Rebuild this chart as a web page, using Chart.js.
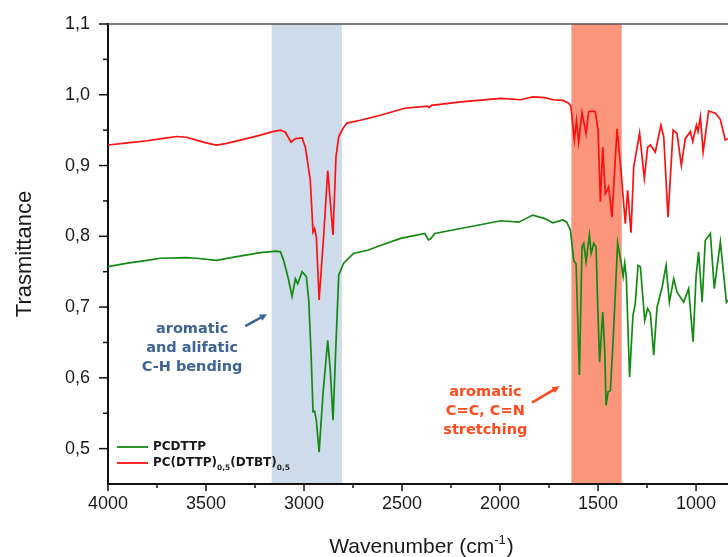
<!DOCTYPE html>
<html>
<head>
<meta charset="utf-8">
<script src="https://cdn.jsdelivr.net/npm/chart.js@4.4.1/dist/chart.umd.min.js"></script>
<style>
  html, body { margin: 0; padding: 0; background: #fff; overflow: hidden; }
  canvas { display: block; }
</style>
</head>
<body>
<canvas id="ftir" width="728" height="557"></canvas>
<script>
// spectra (wavenumber cm-1 / transmittance)
var greenWn = [4000, 3900, 3800, 3733, 3600, 3549, 3447, 3350, 3223, 3141, 3120, 3104, 3080, 3061, 3044, 3032, 3010, 2988, 2976, 2964, 2954, 2946, 2937, 2923, 2903, 2879, 2866, 2852, 2839, 2823, 2798, 2747, 2679, 2611, 2507, 2384, 2365, 2355, 2333, 2200, 1996, 1904, 1833, 1771, 1731, 1679, 1660, 1641, 1624, 1612, 1595, 1582, 1573, 1561, 1544, 1535, 1522, 1510, 1502, 1492, 1476, 1466, 1459, 1449, 1437, 1423, 1400, 1381, 1372, 1364, 1356, 1339, 1322, 1310, 1296, 1284, 1262, 1247, 1233, 1216, 1199, 1173, 1153, 1136, 1114, 1097, 1063, 1038, 1015, 1000, 987, 969, 953, 927, 907, 876, 845, 837];
var greenT = [0.757, 0.762, 0.766, 0.769, 0.770, 0.769, 0.766, 0.771, 0.777, 0.779, 0.778, 0.766, 0.740, 0.715, 0.740, 0.733, 0.750, 0.743, 0.710, 0.634, 0.552, 0.553, 0.540, 0.495, 0.578, 0.653, 0.611, 0.540, 0.634, 0.745, 0.762, 0.776, 0.780, 0.787, 0.797, 0.804, 0.795, 0.796, 0.804, 0.811, 0.822, 0.820, 0.830, 0.825, 0.819, 0.823, 0.820, 0.809, 0.766, 0.761, 0.604, 0.785, 0.790, 0.764, 0.802, 0.776, 0.790, 0.785, 0.705, 0.622, 0.693, 0.639, 0.561, 0.580, 0.582, 0.653, 0.791, 0.761, 0.743, 0.762, 0.743, 0.601, 0.688, 0.705, 0.759, 0.757, 0.681, 0.698, 0.691, 0.632, 0.700, 0.728, 0.759, 0.707, 0.740, 0.721, 0.707, 0.726, 0.651, 0.743, 0.778, 0.707, 0.794, 0.804, 0.726, 0.792, 0.707, 0.710];

var redWn = [4000, 3900, 3800, 3700, 3650, 3600, 3549, 3500, 3447, 3400, 3325, 3223, 3160, 3120, 3095, 3066, 3044, 3010, 2993, 2968, 2954, 2946, 2937, 2923, 2900, 2879, 2852, 2837, 2823, 2800, 2781, 2713, 2611, 2486, 2370, 2362, 2350, 2200, 1996, 1894, 1833, 1771, 1731, 1679, 1650, 1638, 1621, 1610, 1599, 1582, 1561, 1548, 1531, 1514, 1500, 1488, 1476, 1463, 1446, 1429, 1403, 1383, 1361, 1349, 1332, 1318, 1288, 1264, 1247, 1233, 1208, 1179, 1165, 1143, 1117, 1097, 1075, 1055, 1029, 1017, 998, 990, 978, 964, 936, 901, 876, 851, 837];
var redT = [0.929, 0.932, 0.935, 0.939, 0.941, 0.940, 0.936, 0.932, 0.929, 0.931, 0.936, 0.943, 0.948, 0.950, 0.947, 0.933, 0.938, 0.939, 0.926, 0.879, 0.806, 0.811, 0.799, 0.710, 0.800, 0.893, 0.802, 0.912, 0.941, 0.953, 0.960, 0.964, 0.971, 0.981, 0.984, 0.982, 0.985, 0.990, 0.995, 0.993, 0.997, 0.996, 0.993, 0.992, 0.988, 0.983, 0.936, 0.964, 0.933, 0.975, 0.945, 0.976, 0.977, 0.976, 0.950, 0.849, 0.926, 0.860, 0.870, 0.827, 0.952, 0.893, 0.818, 0.865, 0.805, 0.898, 0.946, 0.882, 0.926, 0.929, 0.919, 0.957, 0.941, 0.827, 0.950, 0.945, 0.900, 0.938, 0.948, 0.934, 0.957, 0.948, 0.969, 0.919, 0.977, 0.974, 0.965, 0.936, 0.938];

// axis ticks
var xMajor = [4000, 3500, 3000, 2500, 2000, 1500, 1000];
var xMinor = [3750, 3250, 2750, 2250, 1750, 1250];
var yMajor = [0.5, 0.6, 0.7, 0.8, 0.9, 1.0, 1.1];
var yMinor = [0.55, 0.65, 0.75, 0.85, 0.95, 1.05];

// highlighted bands [from, to] in cm-1
var chBand = [3165, 2807];
var ccBand = [1636, 1379];

var BLUE_TXT = '#3e6496';
var RED_TXT = '#ff4a1c';
var LABEL_FONT = '"DejaVu Sans", Verdana, sans-serif';
var AXIS_FONT = '"Liberation Sans", Arial, sans-serif';

function toPoints(xs, ys) {
  return xs.map(function (x, i) { return { x: x, y: ys[i] }; });
}

function isMajor(list, v) {
  return list.some(function (m) { return Math.abs(m - v) < 1e-6; });
}

function arrow(ctx, x1, y1, x2, y2, color) {
  var a = Math.atan2(y2 - y1, x2 - x1);
  var head = 8;
  ctx.save();
  ctx.strokeStyle = color;
  ctx.fillStyle = color;
  ctx.lineWidth = 2.5;
  ctx.beginPath();
  ctx.moveTo(x1, y1);
  ctx.lineTo(x2 - Math.cos(a) * head * 0.7, y2 - Math.sin(a) * head * 0.7);
  ctx.stroke();
  ctx.beginPath();
  ctx.moveTo(x2, y2);
  ctx.lineTo(x2 - head * Math.cos(a - 0.45), y2 - head * Math.sin(a - 0.45));
  ctx.lineTo(x2 - head * Math.cos(a + 0.45), y2 - head * Math.sin(a + 0.45));
  ctx.closePath();
  ctx.fill();
  ctx.restore();
}

// text with subscript parts: [[text, isSub], ...]
function richText(ctx, parts, x, y, size, subSize, shift) {
  parts.forEach(function (p) {
    ctx.font = 'bold ' + (p[1] ? subSize : size) + 'px ' + LABEL_FONT;
    ctx.fillText(p[0], x, y + (p[1] ? shift : 0));
    x += ctx.measureText(p[0]).width;
  });
}

var decorPlugin = {
  id: 'decor',
  beforeDraw: function (chart) {
    var ctx = chart.ctx, a = chart.chartArea, xs = chart.scales.x;
    ctx.save();
    [[chBand, '#cddbea'], [ccBand, '#fb967c']].forEach(function (b) {
      var p1 = xs.getPixelForValue(b[0][0]), p2 = xs.getPixelForValue(b[0][1]);
      ctx.fillStyle = b[1];
      ctx.fillRect(p1, a.top, p2 - p1, a.bottom - a.top);
    });
    ctx.restore();
  },
  afterDraw: function (chart) {
    var ctx = chart.ctx, a = chart.chartArea, xs = chart.scales.x, ys = chart.scales.y;
    ctx.save();

    // top frame line
    ctx.strokeStyle = '#555';
    ctx.lineWidth = 1.5;
    ctx.beginPath();
    ctx.moveTo(a.left, a.top);
    ctx.lineTo(a.right, a.top);
    ctx.stroke();

    // tick marks (outward)
    ctx.strokeStyle = '#111';
    ctx.lineWidth = 1.5;
    xMajor.concat(xMinor).forEach(function (v) {
      var px = xs.getPixelForValue(v);
      var len = isMajor(xMajor, v) ? 7 : 4;
      ctx.beginPath();
      ctx.moveTo(px, a.bottom);
      ctx.lineTo(px, a.bottom + len);
      ctx.stroke();
    });
    yMajor.concat(yMinor).forEach(function (v) {
      var py = ys.getPixelForValue(v);
      var len = isMajor(yMajor, v) ? 9 : 5;
      ctx.beginPath();
      ctx.moveTo(a.left, py);
      ctx.lineTo(a.left - len, py);
      ctx.stroke();
    });

    // x axis title with superscript
    ctx.fillStyle = '#1a1a1a';
    ctx.textBaseline = 'alphabetic';
    ctx.textAlign = 'left';
    var t1 = 'Wavenumber (cm', t2 = '-1', t3 = ')';
    ctx.font = '21px ' + AXIS_FONT;
    var w1 = ctx.measureText(t1).width, w3 = ctx.measureText(t3).width;
    ctx.font = '13px ' + AXIS_FONT;
    var w2 = ctx.measureText(t2).width;
    var tx = (a.left + a.right) / 2 + 3 - (w1 + w2 + w3) / 2, ty = 553;
    ctx.font = '21px ' + AXIS_FONT;
    ctx.fillText(t1, tx, ty);
    ctx.font = '13px ' + AXIS_FONT;
    ctx.fillText(t2, tx + w1, ty - 9);
    ctx.font = '21px ' + AXIS_FONT;
    ctx.fillText(t3, tx + w1 + w2 + 1, ty);

    // legend
    var ds = chart.data.datasets;
    var legendRows = [
      [[ds[0].label, false]],
      [['PC(DTTP)', false], ['0,5', true], ['(DTBT)', false], ['0,5', true]]
    ];
    ctx.textBaseline = 'middle';
    legendRows.forEach(function (row, i) {
      var ly = a.bottom - 37 + i * 16;
      ctx.strokeStyle = ds[i].borderColor;
      ctx.lineWidth = 1.8;
      ctx.beginPath();
      ctx.moveTo(a.left + 9, ly);
      ctx.lineTo(a.left + 40, ly);
      ctx.stroke();
      ctx.fillStyle = '#1a1a1a';
      richText(ctx, row, a.left + 45, ly, 12, 7.5, 5);
    });

    // annotations
    ctx.textAlign = 'center';
    ctx.font = 'bold 14.5px ' + LABEL_FONT;
    ctx.fillStyle = BLUE_TXT;
    var bx = xs.getPixelForValue(3571), by = ys.getPixelForValue(0.669);
    ['aromatic', 'and alifatic', 'C-H bending'].forEach(function (s, i) {
      ctx.fillText(s, bx, by + i * 19);
    });
    arrow(ctx, xs.getPixelForValue(3300), ys.getPixelForValue(0.673),
      xs.getPixelForValue(3189), ys.getPixelForValue(0.690), BLUE_TXT);

    ctx.fillStyle = RED_TXT;
    var rx = xs.getPixelForValue(2075), ry = ys.getPixelForValue(0.580);
    ['aromatic', 'C=C, C=N', 'stretching'].forEach(function (s, i) {
      ctx.fillText(s, rx, ry + i * 19);
    });
    arrow(ctx, xs.getPixelForValue(1837), ys.getPixelForValue(0.565),
      xs.getPixelForValue(1696), ys.getPixelForValue(0.588), RED_TXT);

    ctx.restore();
  }
};

var ctx = document.getElementById('ftir').getContext('2d');
var ftirChart = new Chart(ctx, {
  type: 'line',
  data: {
    datasets: [{
      label: 'PCDTTP',
      data: toPoints(greenWn, greenT),
      borderColor: '#138a13',
      borderWidth: 1.7,
      pointRadius: 0,
      tension: 0
    }, {
      label: 'PC(DTTP)0,5(DTBT)0,5',
      data: toPoints(redWn, redT),
      borderColor: '#ff1010',
      borderWidth: 1.7,
      pointRadius: 0,
      tension: 0
    }]
  },
  options: {
    responsive: false,
    animation: false,
    layout: { padding: { top: 24, left: 0, right: 0, bottom: 0 } },
    plugins: {
      legend: { display: false },
      tooltip: { enabled: false }
    },
    scales: {
      x: {
        type: 'linear',
        reverse: true,
        min: 837,
        max: 4000,
        afterBuildTicks: function (scale) {
          scale.ticks = xMajor.map(function (v) { return { value: v }; });
        },
        afterFit: function (scale) {
          scale.height = 73;
          scale.paddingLeft = 0;
          scale.paddingRight = 0;
        },
        grid: { display: false, drawTicks: false },
        border: { display: true, color: '#111', width: 2 },
        ticks: {
          autoSkip: false,
          maxRotation: 0,
          padding: 9,
          color: '#1a1a1a',
          font: { family: AXIS_FONT, size: 18 },
          callback: function (v) { return String(v); }
        }
      },
      y: {
        type: 'linear',
        min: 0.45,
        max: 1.1,
        afterBuildTicks: function (scale) {
          scale.ticks = yMajor.map(function (v) { return { value: v }; });
        },
        afterFit: function (scale) {
          scale.width = 108;
          scale.paddingTop = 0;
          scale.paddingBottom = 0;
        },
        grid: { display: false, drawTicks: false },
        border: { display: true, color: '#111', width: 2 },
        ticks: {
          padding: 18,
          color: '#1a1a1a',
          font: { family: AXIS_FONT, size: 18 },
          callback: function (v) { return v.toFixed(1).replace('.', ','); }
        },
        title: {
          display: true,
          text: 'Trasmittance',
          color: '#1a1a1a',
          font: { family: AXIS_FONT, size: 22 },
          padding: { top: 12, bottom: 0 }
        }
      }
    }
  },
  plugins: [decorPlugin]
});
</script>
</body>
</html>
